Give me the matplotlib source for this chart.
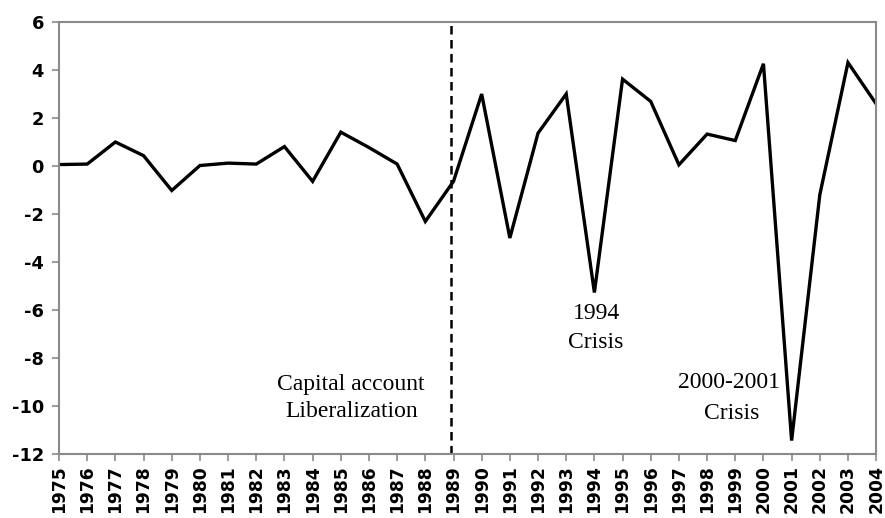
import matplotlib
matplotlib.use("Agg")
import matplotlib.pyplot as plt

years = list(range(1975, 2005))
values = [0.05, 0.07, 0.99, 0.42, -1.03, 0.01, 0.11, 0.07, 0.80, -0.65,
          1.40, 0.76, 0.07, -2.32, -0.65, 2.99, -3.01, 1.36, 2.99, -5.28,
          3.61, 2.68, 0.04, 1.32, 1.05, 4.25, -11.45, -1.21, 4.30, 2.58]
yticks = [6, 4, 2, 0, -2, -4, -6, -8, -10, -12]
liberalization_year = 1988.9

plt.rcParams['axes.unicode_minus'] = False

fig = plt.figure(figsize=(8.85, 5.18), dpi=100)
ax = fig.add_axes([0.0667, 0.124, 0.9233, 0.834])

ax.plot(years, values, color='black', linewidth=2.4, solid_joinstyle='miter')
ax.axvline(liberalization_year, color='black', linewidth=1.8, linestyle=(0, (3.4, 2.2)))

ax.set_xlim(1975, 2004)
ax.set_ylim(-12, 6)
ax.set_xticks(years)
ax.set_xticklabels([str(y) for y in years], rotation=90, fontsize=12.3,
                   fontweight='bold', family='DejaVu Sans')
ax.set_yticks(yticks)
ax.set_yticklabels([str(v) for v in yticks], fontsize=12.8, fontweight='bold',
                   family='DejaVu Sans')

for s in ax.spines.values():
    s.set_color('#8a8a8a')
    s.set_linewidth(1.5)
ax.tick_params(axis='both', direction='out', length=5, width=1.2, color='#8a8a8a')
ax.tick_params(axis='x', pad=3)
ax.tick_params(axis='y', pad=6)

serif = dict(family='Liberation Serif', fontsize=17, ha='center', va='baseline', color='black')
ax.text(1985.37, -9.33, 'Capital account', **serif)
ax.text(1985.37, -10.46, 'Liberalization', **serif)
ax.text(1994.06, -6.375, '1994', **serif)
ax.text(1994.06, -7.58, 'Crisis', **serif)
ax.text(1998.78, -9.25, '2000-2001', **serif)
ax.text(1998.86, -10.54, 'Crisis', **serif)

fig.savefig('out.png', dpi=100)
